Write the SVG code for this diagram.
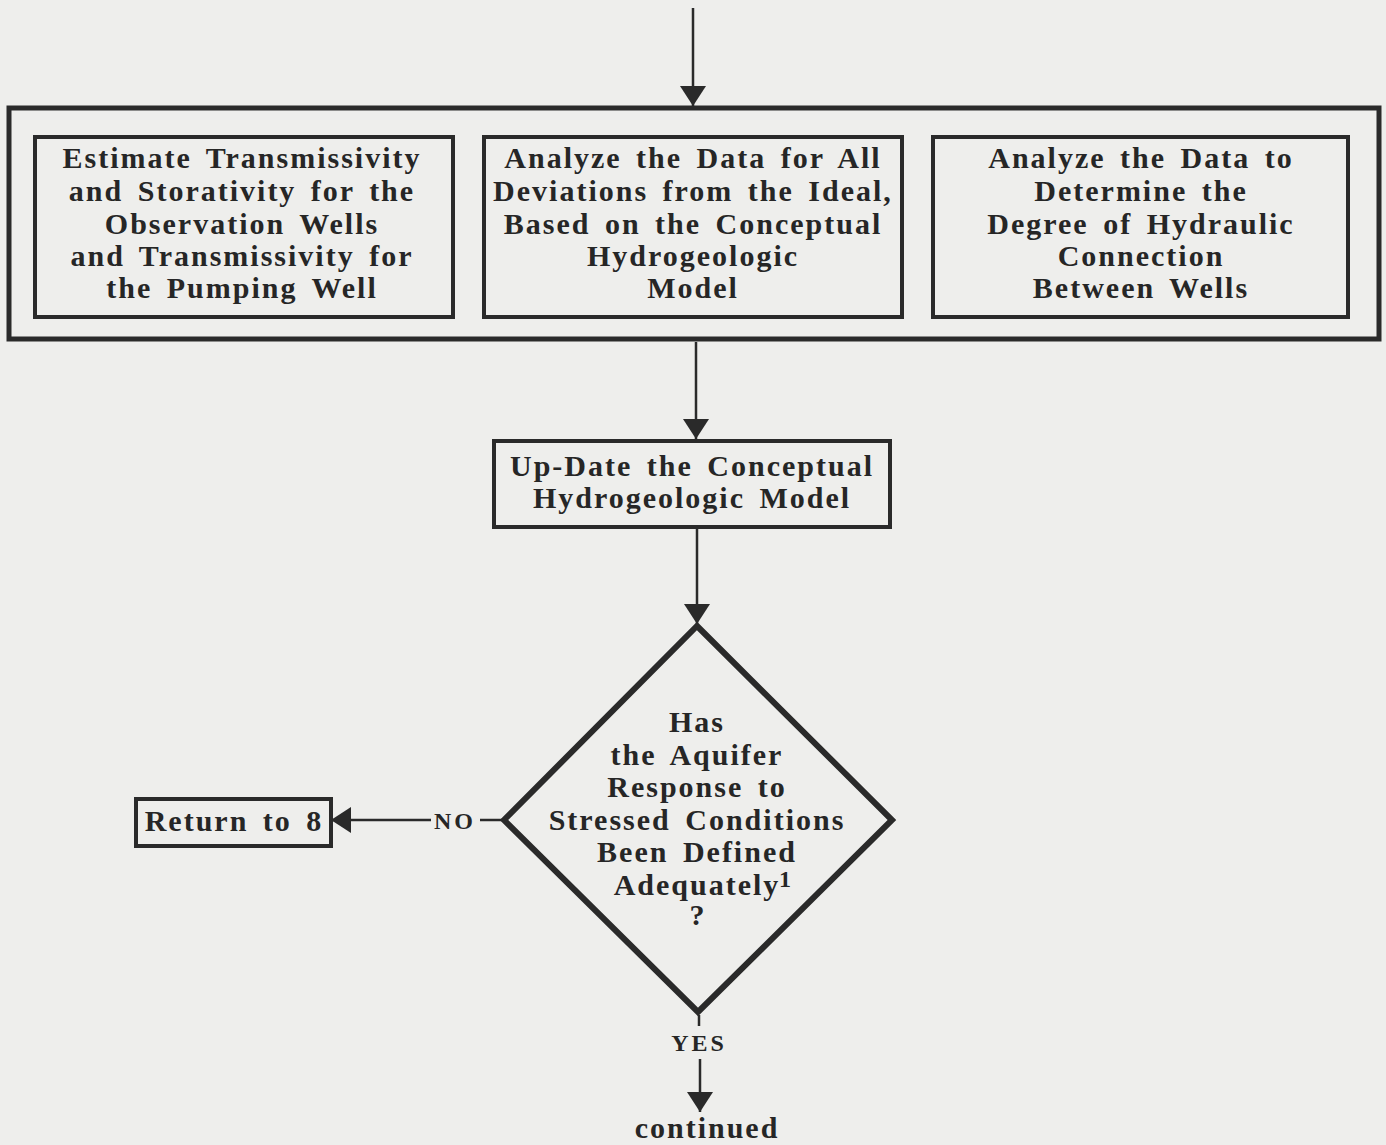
<svg xmlns="http://www.w3.org/2000/svg" width="1386" height="1145" viewBox="0 0 1386 1145">
  <defs>
    <marker id="arrow" viewBox="0 0 20 26" refX="20" refY="13" markerWidth="20" markerHeight="26" markerUnits="userSpaceOnUse" orient="auto">
      <path d="M0,0 L20,13 L0,26 Z" fill="#2a2a2a"/>
    </marker>
  </defs>
  <style>
    .box { fill: none; stroke: #2a2a2a; stroke-width: 4; }
    .outer { fill: none; stroke: #2a2a2a; stroke-width: 5; }
    .diamond { fill: none; stroke: #2a2a2a; stroke-width: 6; stroke-linejoin: miter; }
    .link { fill: none; stroke: #2a2a2a; stroke-width: 2.5; }
    text { font-family: "Liberation Serif", "Times New Roman", serif; font-weight: bold; font-size: 30px; fill: #262626; text-anchor: middle; letter-spacing: 2px; word-spacing: 5px; }
    .small { font-size: 24px; letter-spacing: 3px; }
    .sup { font-size: 24px; text-anchor: start; letter-spacing: 0; }
  </style>

  <rect width="1386" height="1145" fill="#eeeeec"/>

  <!-- connectors -->
  <g id="connectors">
    <line class="link" x1="693" y1="8" x2="693" y2="106" marker-end="url(#arrow)"/>
    <line class="link" x1="696" y1="342" x2="696" y2="439" marker-end="url(#arrow)"/>
    <line class="link" x1="697" y1="529" x2="697" y2="624" marker-end="url(#arrow)"/>
    <line class="link" x1="431" y1="820" x2="331" y2="820" marker-end="url(#arrow)"/>
    <line class="link" x1="480" y1="820" x2="502" y2="820"/>
    <line class="link" x1="699" y1="1015" x2="699" y2="1026"/>
    <line class="link" x1="700" y1="1059" x2="700" y2="1112" marker-end="url(#arrow)"/>
    <text class="small" x="455" y="829">NO</text>
    <text class="small" x="699" y="1051">YES</text>
    <text x="707" y="1138">continued</text>
  </g>

  <!-- outer group frame -->
  <g id="analysis-group">
    <rect class="outer" x="9" y="108" width="1370" height="231"/>
  </g>

  <g id="estimate">
    <rect class="box" x="35" y="137" width="418" height="180"/>
    <text x="242" y="168">Estimate Transmissivity</text>
    <text x="242" y="201">and Storativity for the</text>
    <text x="242" y="234">Observation Wells</text>
    <text x="242" y="266">and Transmissivity for</text>
    <text x="242" y="298">the Pumping Well</text>
  </g>

  <g id="deviations">
    <rect class="box" x="484" y="137" width="418" height="180"/>
    <text x="693" y="168">Analyze the Data for All</text>
    <text x="693" y="201">Deviations from the Ideal,</text>
    <text x="693" y="234">Based on the Conceptual</text>
    <text x="693" y="266">Hydrogeologic</text>
    <text x="693" y="298">Model</text>
  </g>

  <g id="connection">
    <rect class="box" x="933" y="137" width="415" height="180"/>
    <text x="1141" y="168">Analyze the Data to</text>
    <text x="1141" y="201">Determine the</text>
    <text x="1141" y="234">Degree of Hydraulic</text>
    <text x="1141" y="266">Connection</text>
    <text x="1141" y="298">Between Wells</text>
  </g>

  <g id="update">
    <rect class="box" x="494" y="441" width="396" height="86"/>
    <text x="692" y="476">Up-Date the Conceptual</text>
    <text x="692" y="508">Hydrogeologic Model</text>
  </g>

  <g id="decision">
    <polygon class="diamond" points="697,626 892,820 698,1012 504,820"/>
    <text x="697" y="732">Has</text>
    <text x="697" y="765">the Aquifer</text>
    <text x="697" y="797">Response to</text>
    <text x="697" y="830">Stressed Conditions</text>
    <text x="697" y="862">Been Defined</text>
    <text x="697" y="895">Adequately</text>
    <text class="sup" x="779" y="887">1</text>
    <text x="698" y="925">?</text>
  </g>

  <g id="return">
    <rect class="box" x="136" y="799" width="195" height="47"/>
    <text x="234" y="831">Return to 8</text>
  </g>
</svg>
